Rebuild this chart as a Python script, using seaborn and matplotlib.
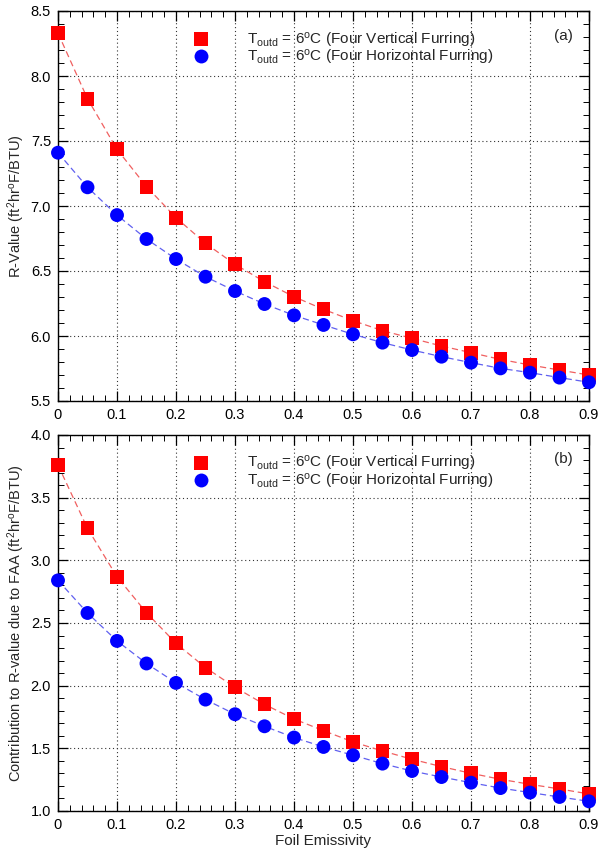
import numpy as np
import pandas as pd
import matplotlib
matplotlib.use("Agg")
import matplotlib.pyplot as plt
from matplotlib.ticker import MultipleLocator
import seaborn as sns

emissivity = [0.0, 0.05, 0.1, 0.15, 0.2, 0.25, 0.3, 0.35, 0.4, 0.45,
              0.5, 0.55, 0.6, 0.65, 0.7, 0.75, 0.8, 0.85, 0.9]

r_vertical = [8.33, 7.825, 7.436, 7.149, 6.91, 6.713, 6.551, 6.418, 6.302, 6.205,
              6.118, 6.041, 5.982, 5.923, 5.872, 5.82, 5.777, 5.738, 5.70]
r_horizontal = [7.41, 7.144, 6.93, 6.746, 6.592, 6.456, 6.346, 6.246, 6.159, 6.085,
                6.013, 5.949, 5.892, 5.841, 5.795, 5.751, 5.718, 5.68, 5.644]

faa_vertical = [3.76, 3.255, 2.869, 2.582, 2.338, 2.144, 1.987, 1.851, 1.734, 1.641,
                1.551, 1.479, 1.413, 1.354, 1.301, 1.253, 1.213, 1.176, 1.136]
faa_horizontal = [2.84, 2.58, 2.357, 2.177, 2.022, 1.889, 1.772, 1.676, 1.586, 1.511,
                  1.445, 1.378, 1.319, 1.271, 1.226, 1.183, 1.147, 1.112, 1.077]

series_labels = [r"T$_{\rm outd}$ = 6$^{\rm o}$C (Four Vertical Furring)",
                 r"T$_{\rm outd}$ = 6$^{\rm o}$C (Four Horizontal Furring)"]
panel_tags = ["(a)", "(b)"]
ylabels = [r"R-Value (ft$^{2}$hr$^{\rm o}$F/BTU)",
           r"Contribution to R-value due to FAA (ft$^{2}$hr$^{\rm o}$F/BTU)"]
xlabel = "Foil Emissivity"

sns.set_theme(style="white")
plt.rcParams['font.family'] = ['Liberation Sans', 'DejaVu Sans']
plt.rcParams['mathtext.fontset'] = 'custom'
plt.rcParams['mathtext.rm'] = 'Liberation Sans'
plt.rcParams['mathtext.it'] = 'Liberation Sans:italic'

fig = plt.figure(figsize=(5.99, 8.5), dpi=100)
W, H = 599, 850
ax_top = fig.add_axes([58 / W, 1 - 401 / H, (589 - 58) / W, (401 - 11) / H])
ax_bot = fig.add_axes([58 / W, 1 - 811 / H, (589 - 58) / W, (811 - 435) / H])

def make_df(v, h):
    return pd.DataFrame({
        "x": emissivity * 2,
        "y": list(v) + list(h),
        "series": [series_labels[0]] * len(v) + [series_labels[1]] * len(h),
    })

palette_marker = {series_labels[0]: "#ff0000", series_labels[1]: "#0000ff"}
palette_line = {series_labels[0]: "#f06060", series_labels[1]: "#6060f0"}

configs = [
    (ax_top, make_df(r_vertical, r_horizontal), (5.5, 8.5), panel_tags[0], ylabels[0]),
    (ax_bot, make_df(faa_vertical, faa_horizontal), (1.0, 4.0), panel_tags[1], ylabels[1]),
]

for ax, df, ylim, tag, ylab in configs:
    sns.lineplot(data=df, x="x", y="y", hue="series", palette=palette_line,
                 ax=ax, legend=False, linewidth=0.9, dashes=False)
    for ln in ax.get_lines():
        ln.set_linestyle((0, (5, 3)))
    sns.scatterplot(data=df, x="x", y="y", hue="series", style="series",
                    markers={series_labels[0]: "s", series_labels[1]: "o"},
                    palette=palette_marker, s=100, linewidth=0, ax=ax, zorder=5,
                    clip_on=False)
    ax.set_xlim(0, 0.9)
    ax.set_ylim(*ylim)
    ax.xaxis.set_major_locator(MultipleLocator(0.1))
    ax.xaxis.set_minor_locator(MultipleLocator(0.02))
    ax.yaxis.set_major_locator(MultipleLocator(0.5))
    ax.yaxis.set_minor_locator(MultipleLocator(0.1))
    ax.xaxis.set_major_formatter(plt.FuncFormatter(lambda v, p: "0" if abs(v) < 1e-9 else f"{v:.1f}"))
    ax.yaxis.set_major_formatter(plt.FuncFormatter(lambda v, p: f"{v:.1f}"))
    ax.tick_params(which="both", direction="in", top=True, right=True,
                   bottom=True, left=True, colors="black", labelsize=10.5)
    ax.tick_params(which="major", length=7, width=0.9, pad=5)
    ax.tick_params(which="minor", length=4, width=0.7)
    ax.grid(True, which="major", linestyle=(0, (1, 2.5)), color="#333333", linewidth=0.8)
    for sp in ax.spines.values():
        sp.set_color("black")
        sp.set_linewidth(1.0)
    ax.set_ylabel(ylab, fontsize=10.5, labelpad=3)
    ax.set_xlabel("")
    ax.text(0.97, 0.935, tag, transform=ax.transAxes, ha="right", va="center", fontsize=11)
    leg = ax.legend(loc="upper left", bbox_to_anchor=(0.215, 0.985), frameon=False,
                    fontsize=11, handletextpad=2.0, labelspacing=-0.12,
                    markerscale=1.0, title=None)

fig.text(323 / W, 1 - 841 / H, xlabel, ha="center", va="center", fontsize=11)

fig.savefig("out.png", dpi=100, facecolor="white")
